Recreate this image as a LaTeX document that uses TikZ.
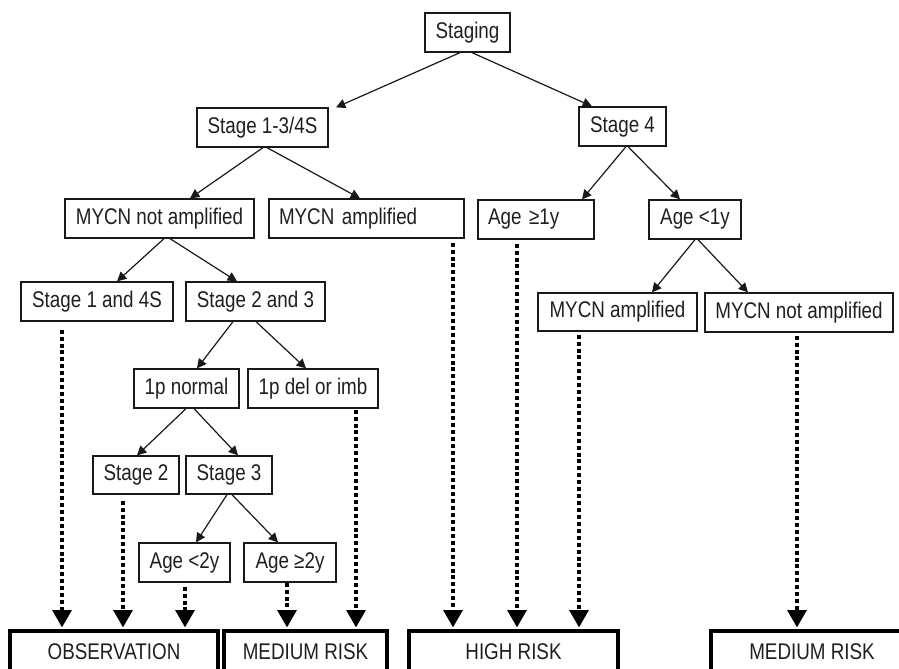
\documentclass[tikz,border=0pt]{standalone}
\usepackage{fontspec}
\setmainfont[FakeStretch=0.83]{Liberation Sans}
\usetikzlibrary{arrows.meta}
\begin{document}
\begin{tikzpicture}[x=0.75pt,y=-0.75pt,
  every node/.style={font=\fontsize{17}{20}\selectfont, inner sep=0pt, text=black!88},
  box/.style 2 args={draw=black!90, line width=0.95pt, minimum width=#1*0.75pt, minimum height=#2*0.75pt},
  leftbox/.style 2 args={box={#1}{#2}, text width=(#1-20)*0.75pt, align=left},
  outcome/.style={draw=black, line width=2.3pt, minimum width=#1*0.75pt, minimum height=42*0.75pt},
  branch/.style={draw=black!90, line width=0.9pt, -{Triangle[width=7pt,length=7pt]}},
  result/.style={draw=black, line width=2.8pt, dash pattern=on 3pt off 2.2pt,
    -{Triangle[width=14pt,length=13pt]}}]
\useasboundingbox (0,0) rectangle (899,668);

% decision nodes
\node[box={85}{39}] (staging) at (467.5,32.5) {Staging};
\node[box={131}{39}] (s13) at (262.5,127.5) {Stage 1-3/4S};
\node[box={87}{39}] (s4) at (622.5,126.5) {Stage 4};
\node[box={189}{39}] (mna) at (159.5,218.5) {MYCN not amplified};
\node[leftbox={195}{39}] (ma) at (366.5,218.5) {MYCN amplified};
\node[leftbox={116}{39}] (a1) at (536,219.5) {Age ≥1y};
\node[box={92}{39}] (a0) at (695,219.5) {Age <1y};
\node[box={152}{39}] (s14) at (97,301.5) {Stage 1 and 4S};
\node[box={139}{39}] (s23) at (255.5,301.5) {Stage 2 and 3};
\node[box={159}{38}] (rma) at (617.5,312) {MYCN amplified};
\node[box={188}{39}] (rmna) at (799,312.5) {MYCN not amplified};
\node[box={105}{39}] (p1n) at (186.5,388.5) {1p normal};
\node[box={130}{39}] (p1d) at (313,388.5) {1p del or imb};
\node[box={86}{38}] (st2) at (136,475) {Stage 2};
\node[box={86}{38}] (st3) at (229,475) {Stage 3};
\node[box={91}{39}] (ag2l) at (184.5,562.5) {Age <2y};
\node[box={92}{39}] (ag2g) at (290,562.5) {Age ≥2y};

% outcome boxes
\node[outcome=208] (obs) at (114,652) {OBSERVATION};
\node[outcome=163] (mr) at (305.5,652) {MEDIUM RISK};
\node[outcome=209] (hr) at (513.5,652) {HIGH RISK};
\node[outcome=202] (mr2) at (812,652) {MEDIUM RISK};

% branching arrows
\draw[branch] (staging.south -| 460,0) -- (s13.north -| 336,0);
\draw[branch] (staging.south -| 472,0) -- (s4.north -| 592,0);
\draw[branch] (s13.south -| 263,0) -- (mna.north -| 190,0);
\draw[branch] (s13.south -| 267,0) -- (ma.north -| 360,0);
\draw[branch] (s4.south -| 626,0) -- (a1.north -| 582,0);
\draw[branch] (s4.south -| 628,0) -- (a0.north -| 680,0);
\draw[branch] (a0.south -| 695,0) -- (rma.north -| 652,0);
\draw[branch] (a0.south -| 698,0) -- (rmna.north -| 748,0);
\draw[branch] (mna.south -| 164,0) -- (s14.north -| 117,0);
\draw[branch] (mna.south -| 170,0) -- (s23.north -| 237,0);
\draw[branch] (s23.south -| 233,0) -- (p1n.north -| 197,0);
\draw[branch] (s23.south -| 256,0) -- (p1d.north -| 306,0);
\draw[branch] (p1n.south -| 186,0) -- (st2.north -| 137,0);
\draw[branch] (p1n.south -| 194,0) -- (st3.north -| 238,0);
\draw[branch] (st3.south -| 227,0) -- (ag2l.north -| 196,0);
\draw[branch] (st3.south -| 232,0) -- (ag2g.north -| 278,0);

% dotted arrows to the outcomes
\draw[result] ([yshift=-8*0.75pt]s14.south -| 62,0) -- ([yshift=1.5pt]obs.north -| 62,0);
\draw[result] ([yshift=-6*0.75pt]st2.south -| 123,0) -- ([yshift=1.5pt]obs.north -| 123,0);
\draw[result] ([yshift=-4*0.75pt]ag2l.south -| 185,0) -- ([yshift=1.5pt]obs.north -| 185,0);
\draw[result] (ag2g.south -| 287,0) -- ([yshift=1.5pt]mr.north -| 287,0);
\draw[result] ([yshift=-1*0.75pt]p1d.south -| 356,0) -- ([yshift=1.5pt]mr.north -| 356,0);
\draw[result] ([yshift=-4*0.75pt]ma.south -| 453,0) -- ([yshift=1.5pt]hr.north -| 453,0);
\draw[result] ([yshift=-4*0.75pt]a1.south -| 517,0) -- ([yshift=1.5pt]hr.north -| 517,0);
\draw[result] ([yshift=-3*0.75pt]rma.south -| 579,0) -- ([yshift=1.5pt]hr.north -| 579,0);
\draw[result] ([yshift=-3*0.75pt]rmna.south -| 797,0) -- ([yshift=1.5pt]mr2.north -| 797,0);
\end{tikzpicture}
\end{document}
